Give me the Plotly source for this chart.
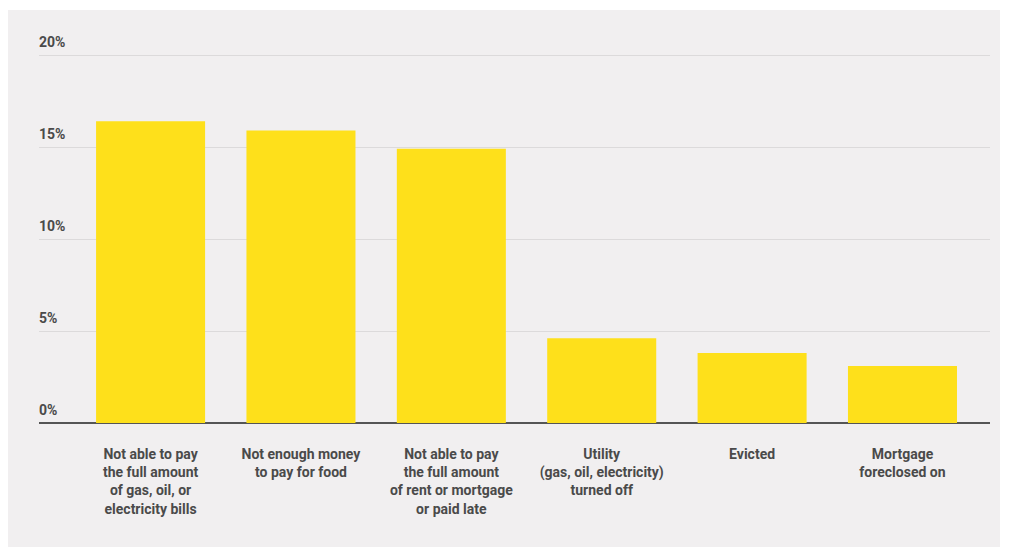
import plotly.graph_objects as go

categories = [
    "Not able to pay<br>the full amount<br>of gas, oil, or<br>electricity bills",
    "Not enough money<br>to pay for food",
    "Not able to pay<br>the full amount<br>of rent or mortgage<br>or paid late",
    "Utility<br>(gas, oil, electricity)<br>turned off",
    "Evicted",
    "Mortgage<br>foreclosed on",
]
values = [16.4, 15.9, 14.9, 4.6, 3.8, 3.1]
tick_values = [0, 5, 10, 15, 20]
tick_labels = ["0%", "5%", "10%", "15%", "20%"]

W, H = 1010, 555
ml, mr, mt, mb = 39, 20, 30, 132
pw, ph = W - ml - mr, H - mt - mb
y_top = 20 * ph / (423 - 55)

fig = go.Figure(
    go.Bar(
        x=list(range(len(categories))),
        y=values,
        marker=dict(color="#FEE01B", line=dict(width=0)),
        width=0.725,
        hoverinfo="y",
    )
)

fig.update_layout(
    width=W,
    height=H,
    margin=dict(l=ml, r=mr, t=mt, b=mb),
    paper_bgcolor="white",
    plot_bgcolor="rgba(0,0,0,0)",
    showlegend=False,
    font=dict(family="Roboto", color="#4a4a4a"),
    shapes=[
        dict(
            type="rect", xref="paper", yref="paper", layer="below",
            x0=(8 - ml) / pw, x1=(1000 - ml) / pw,
            y0=-(547 - mt - ph) / ph, y1=1 + (mt - 10) / ph,
            fillcolor="#F1EFF0", line=dict(width=0),
        )
    ],
)

fig.update_xaxes(
    tickmode="array",
    tickvals=list(range(len(categories))),
    ticktext=categories,
    range=[-0.742, 5.582],
    showgrid=False,
    zeroline=False,
    showline=False,
    ticks="",
    tickfont=dict(family="Roboto", size=14, color="#4a4a4a", weight="bold"),
    ticklabelstandoff=21,
)

fig.update_yaxes(
    range=[0, y_top],
    tickmode="array",
    tickvals=tick_values,
    ticktext=tick_labels,
    ticklabelposition="inside top",
    ticklabelshift=-3,
    ticklabelstandoff=-3,
    showgrid=True,
    gridcolor="#DCDADB",
    gridwidth=1,
    zeroline=True,
    zerolinecolor="#555555",
    zerolinewidth=2,
    showline=False,
    ticks="",
    tickfont=dict(family="Roboto", size=14, color="#4a4a4a", weight="bold"),
)

fig.write_html("out.html")
